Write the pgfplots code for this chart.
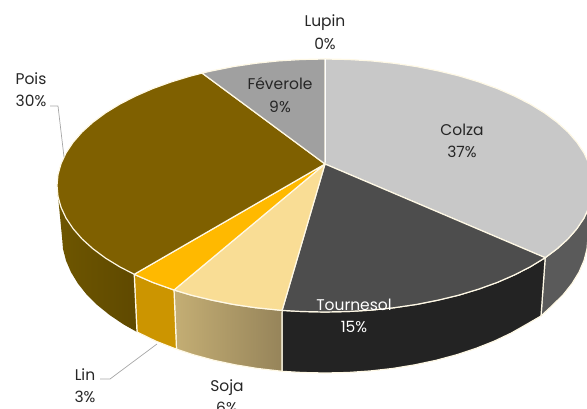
\documentclass[border=0pt]{standalone}
\usepackage{pgfplots}
\pgfplotsset{compat=1.18}
\usepackage{fontspec}
\setmainfont{Poppins}
\definecolor{edge}{HTML}{FFF9E6}
\definecolor{cColza}{HTML}{C8C8C8}
\definecolor{cTourn}{HTML}{4D4D4D}
\definecolor{cSoja}{HTML}{F9DD95}
\definecolor{cLin}{HTML}{FFB900}
\definecolor{cPois}{HTML}{7F6000}
\definecolor{cFev}{HTML}{A0A0A0}
\definecolor{wColza}{HTML}{5A5A5A}
\definecolor{wTourn}{HTML}{232323}
\definecolor{wSojaL}{HTML}{C4AE74}
\definecolor{wSojaR}{HTML}{96845A}
\definecolor{wLin}{HTML}{CC9500}
\definecolor{wPoisL}{HTML}{6E5600}
\definecolor{wPoisR}{HTML}{5F4900}
\tikzset{lab/.style={font=\fontsize{15.5}{22.5}\selectfont,align=center,text=black!85,inner sep=0pt}}
\begin{document}
\begin{tikzpicture}
\begin{axis}[
  at={(0,0)},anchor=south west,
  scale only axis,width=587pt,height=409pt,
  xmin=0,xmax=587,ymin=0,ymax=409,y dir=reverse,
  hide axis,clip=true,
  line join=round,
]
% --- walls ---
\addplot[fill=wColza,draw=edge,line width=1.2pt] coordinates {
 (545.2,257.7)(557.1,248.75)(567.9,239)(576.8,228.8)(583.9,218.2)(588.9,207.5)(592,196.5)(593,185.5)
 (588,237)(587,248.9)(584,260.6)(579,272.2)(572.1,283.5)(563.4,294.5)(552.8,305)(541,316)} --cycle;
\addplot[fill=wTourn,draw=edge,line width=1.2pt] coordinates {
 (545.2,257.7)(530.3,266.8)(514.5,274.9)(497.3,282.4)(478.7,289.1)(459,295.1)(438.3,300.1)(416.7,304.4)(394.4,307.7)(371.5,310.1)(348.4,311.5)(325,312)(301.6,311.5)(282.1,310.4)
 (282,371.3)(302.1,372.5)(325,373)(347.9,372.5)(370.7,370.9)(393.1,368.4)(414.9,364.8)(436.1,360.3)(456.5,354.8)(475.9,348.4)(494.1,341.2)(511,333.2)(526.5,324.4)(541,316)} --cycle;
\addplot[left color=wSojaL,right color=wSojaR,draw=edge,line width=1.2pt] coordinates {
 (282.1,310.4)(255.6,307.7)(233.3,304.4)(211.7,300.1)(191,295.1)(174,290)
 (176.5,349.2)(193.5,354.8)(213.9,360.3)(235.1,364.8)(256.9,368.4)(282,371.3)} --cycle;
\addplot[fill=wLin,draw=edge,line width=1.2pt] coordinates {
 (174,290)(152.7,282.4)(134.2,274.3)
 (137,332)(155.9,341.2)(176.5,349.2)} --cycle;
\addplot[left color=wPoisL,right color=wPoisR,draw=none] coordinates {
 (134.2,274.3)(119.7,266.8)(105.5,258.1)(92.9,248.75)(82.1,239)(73.2,228.8)(66.1,218.2)(61.1,207.5)(58,196.5)(57,185.5)
 (62,237)(63,248.9)(66,260.6)(71,272.2)(77.9,283.5)(86.6,294.5)(97.2,305)(109.6,315)(123.5,324.4)(137,332)} --cycle;
\addplot[draw=edge,line width=1.2pt] coordinates {(134.2,274.3)(137,332)};
% --- top slices ---
\addplot[fill=cColza,draw=edge,line width=1.2pt] coordinates {
 (325,164)(325,59)(348.4,59.5)(371.5,60.9)(394.4,63.3)(416.7,66.6)(438.3,70.9)(459,75.9)(478.7,81.9)(497.3,88.6)(514.5,96.1)(530.3,104.2)(544.5,112.9)(557.1,122.25)(567.9,132)(576.8,142.2)(583.9,152.8)(588.9,163.5)(592,174.5)(593,185.5)(592,196.5)(588.9,207.5)(583.9,218.2)(576.8,228.8)(567.9,239)(557.1,248.75)(545.2,257.7)} --cycle;
\addplot[fill=cTourn,draw=edge,line width=1.2pt] coordinates {
 (325,164)(545.2,257.7)(530.3,266.8)(514.5,274.9)(497.3,282.4)(478.7,289.1)(459,295.1)(438.3,300.1)(416.7,304.4)(394.4,307.7)(371.5,310.1)(348.4,311.5)(325,312)(301.6,311.5)(282.1,310.4)} --cycle;
\addplot[fill=cSoja,draw=edge,line width=1.2pt] coordinates {
 (325,164)(282.1,310.4)(255.6,307.7)(233.3,304.4)(211.7,300.1)(191,295.1)(174,290)} --cycle;
\addplot[fill=cLin,draw=edge,line width=1.2pt] coordinates {
 (325,164)(174,290)(152.7,282.4)(134.2,274.3)} --cycle;
\addplot[fill=cPois,draw=edge,line width=1.2pt] coordinates {
 (325,164)(134.2,274.3)(119.7,266.8)(105.5,258.1)(92.9,248.75)(82.1,239)(73.2,228.8)(66.1,218.2)(61.1,207.5)(58,196.5)(57,185.5)(58,174.5)(61.1,163.5)(66.1,152.8)(73.2,142.2)(82.1,132)(92.9,122.25)(105.5,112.9)(119.7,104.2)(135.5,96.1)(152.7,88.6)(171.3,81.9)(191,75.9)(202.1,73.1)} --cycle;
\addplot[fill=cFev,draw=edge,line width=1.2pt] coordinates {
 (325,164)(202.1,73.1)(211.7,70.9)(233.3,66.6)(255.6,63.3)(278.5,60.9)(301.6,59.5)(325,59)} --cycle;
% Lupin 0 % sliver
\addplot[draw=white,line width=1.8pt] coordinates {(325.5,59)(325.5,162)};
% --- leader lines ---
\addplot[draw=black!35,line width=0.7pt] coordinates {(50,106)(58,106)(64,157)};
\addplot[draw=black!35,line width=0.7pt] coordinates {(100,379)(110,379)(157,344)};
% --- labels ---
\node[lab] at (axis cs:325,32) {Lupin\\0\%};
\node[lab] at (axis cs:31,89.5) {Pois\\30\%};
\node[lab] at (axis cs:280,95) {Féverole\\9\%};
\node[lab] at (axis cs:462,141) {Colza\\37\%};
\node[lab,text=white] at (axis cs:354,316) {Tournesol\\15\%};
\node[lab] at (axis cs:85,385.5) {Lin\\3\%};
\node[lab] at (axis cs:227,396.5) {Soja\\6\%};
\end{axis}
\pgfresetboundingbox
\useasboundingbox (0,0) rectangle (587pt,409pt);
\end{tikzpicture}
\end{document}
